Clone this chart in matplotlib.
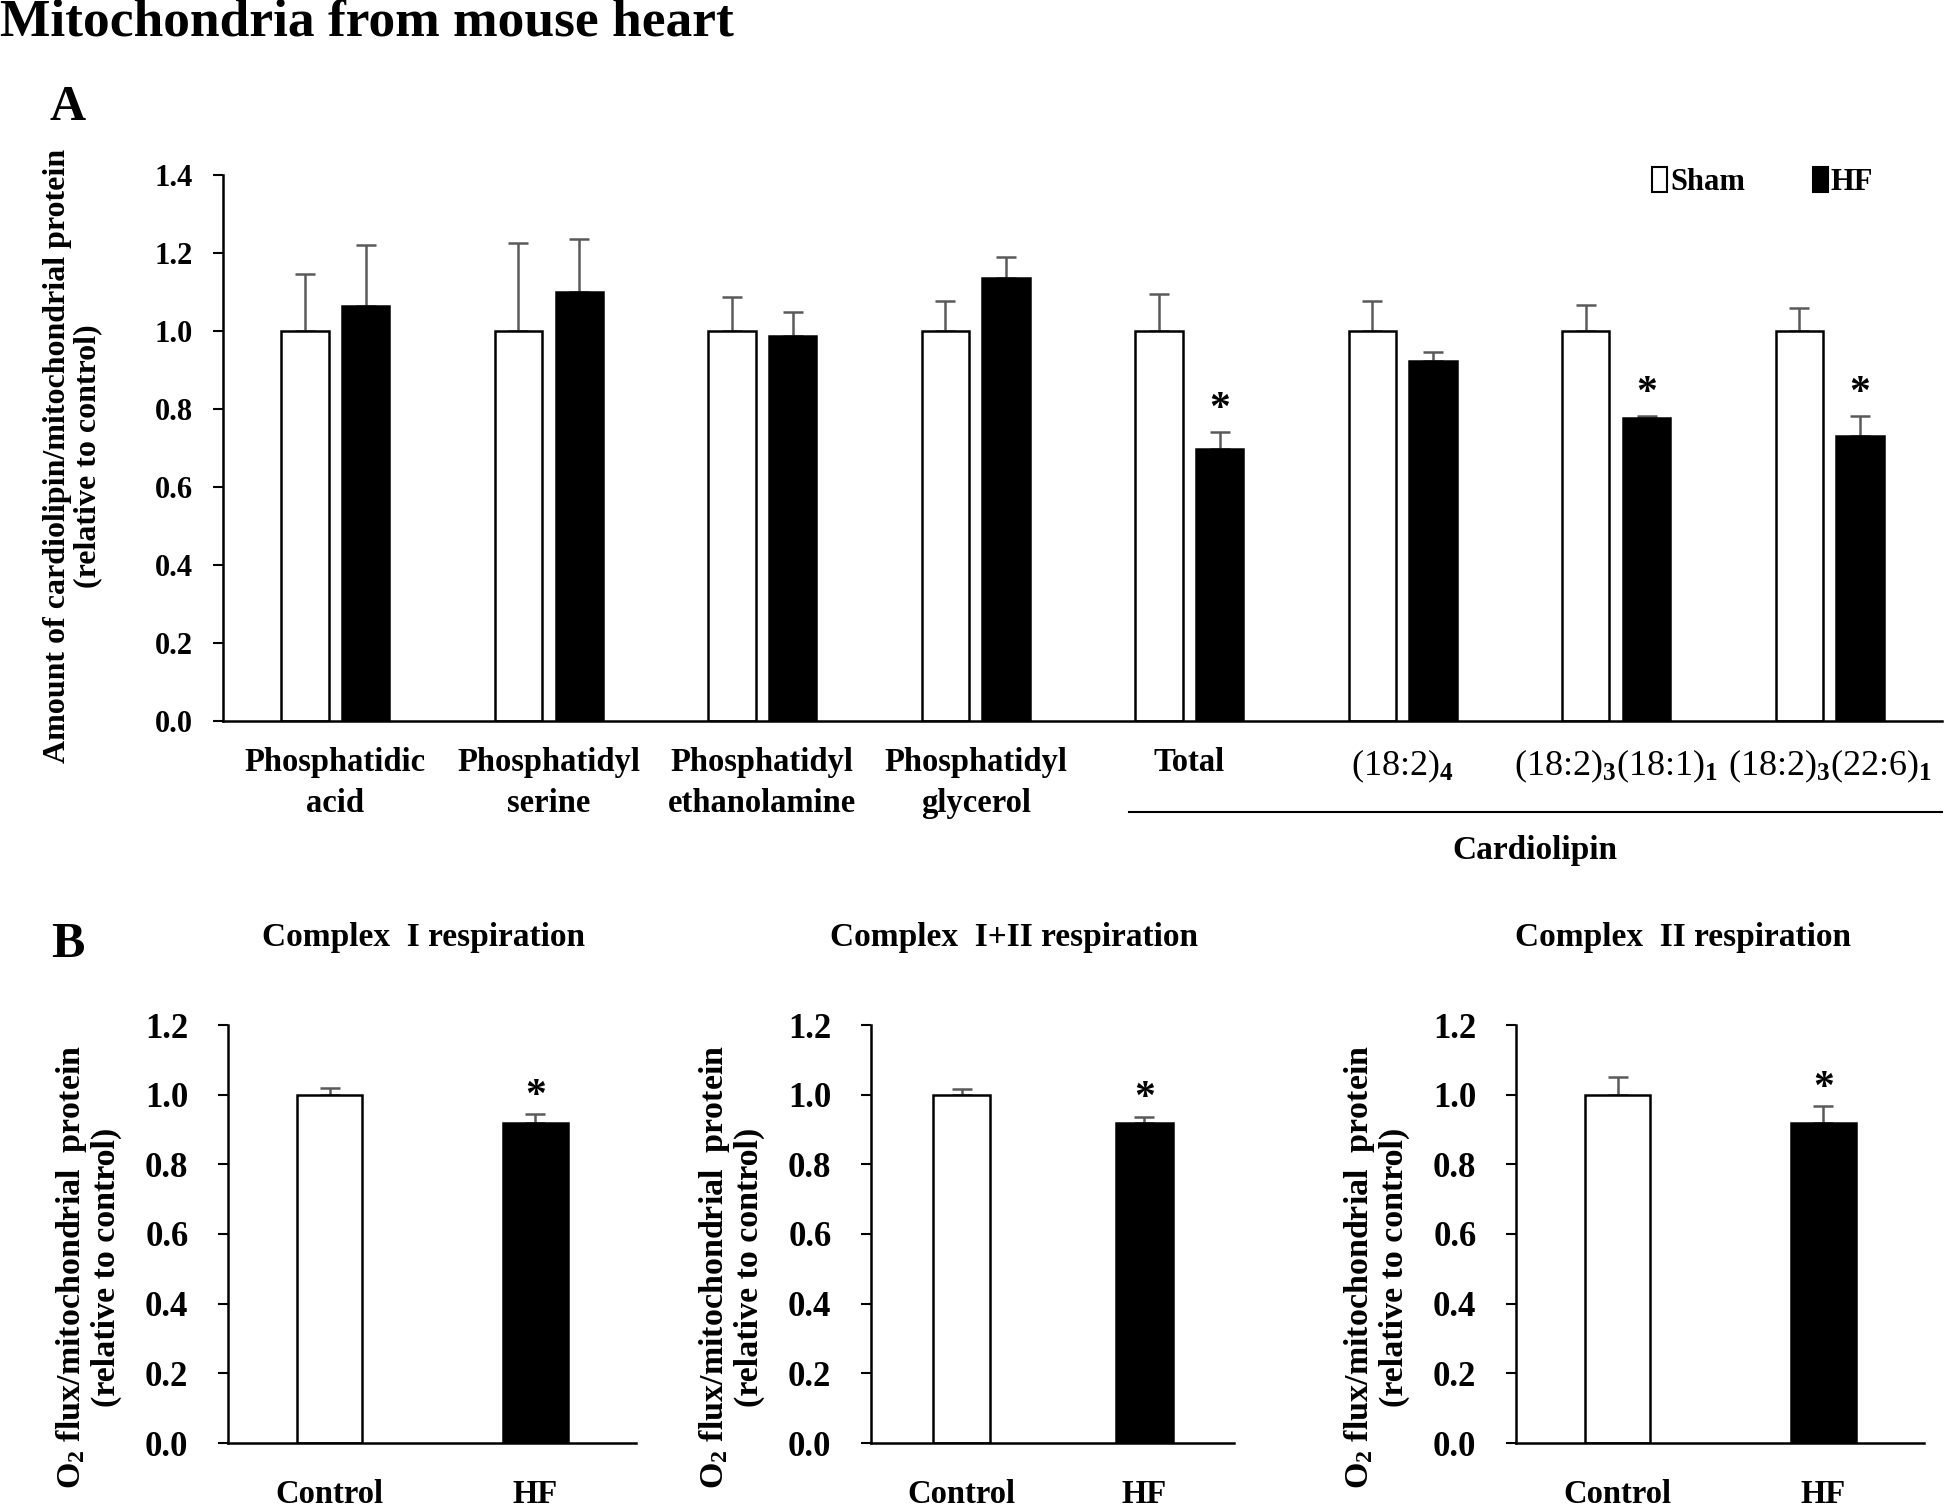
import matplotlib
matplotlib.use("Agg")
import matplotlib.pyplot as plt
import matplotlib.transforms as mtransforms
from matplotlib.patches import Patch
import numpy as np

plt.rcParams["font.family"] = ["Liberation Serif", "DejaVu Serif"]
plt.rcParams["font.weight"] = "bold"
plt.rcParams["axes.labelweight"] = "bold"
plt.rcParams["mathtext.fontset"] = "custom"
plt.rcParams["mathtext.rm"] = "Liberation Serif"
plt.rcParams["mathtext.it"] = "Liberation Serif:italic"
plt.rcParams["mathtext.bf"] = "Liberation Serif:bold"
plt.rcParams["mathtext.default"] = "rm"

# ---------------------------------------------------------------------------
# Data
# ---------------------------------------------------------------------------
lipids = ["Phosphatidic\nacid", "Phosphatidyl\nserine", "Phosphatidyl\nethanolamine",
          "Phosphatidyl\nglycerol", "Total", "(18:2)$_4$",
          "(18:2)$_3$(18:1)$_1$", "(18:2)$_3$(22:6)$_1$"]
sham_vals = [1.00, 1.00, 1.00, 1.00, 1.00, 1.00, 1.00, 1.00]
sham_err  = [0.145, 0.225, 0.088, 0.078, 0.094, 0.077, 0.066, 0.060]
hf_vals   = [1.065, 1.100, 0.986, 1.135, 0.697, 0.924, 0.777, 0.731]
hf_err    = [0.155, 0.137, 0.064, 0.055, 0.044, 0.021, 0.006, 0.050]
hf_sig    = [False, False, False, False, True, False, True, True]

resp_titles = ["Complex  I respiration", "Complex  I+II respiration", "Complex  II respiration"]
resp_groups = ["Control", "HF"]
resp_ctrl     = [1.00, 1.00, 1.00]
resp_ctrl_err = [0.019, 0.017, 0.052]
resp_hf       = [0.920, 0.920, 0.920]
resp_hf_err   = [0.025, 0.017, 0.048]

FS = 23.5
ERR_COLOR = "#5a5a5a"
W, H = 1946, 1507

fig = plt.figure(figsize=(19.46, 15.07), dpi=100)

fig.text(0.0, 1 - 22 / H, "Mitochondria from mouse heart", fontsize=38.5,
         fontweight="bold", ha="left", va="center")
fig.text(68 / W, 1 - 108 / H, "A", fontsize=36, fontweight="bold", ha="center", va="center")
fig.text(68 / W, 1 - 945 / H, "B", fontsize=36, fontweight="bold", ha="center", va="center")


def style_axes(ax, pad, xpad):
    for s in ["top", "right"]:
        ax.spines[s].set_visible(False)
    for s in ["left", "bottom"]:
        ax.spines[s].set_linewidth(1.8)
    ax.tick_params(axis="y", direction="out", length=7.5, width=1.5, pad=pad)
    ax.tick_params(axis="x", length=0, pad=xpad)


# ---------------------------------------------------------------------------
# Panel A
# ---------------------------------------------------------------------------
axA = fig.add_axes([223 / W, 1 - 721 / H, (1942 - 223) / W, (721 - 175) / H])
x = np.arange(len(lipids))
off, w = 0.142, 0.221
axA.bar(x - off, sham_vals, w, color="white", edgecolor="black", linewidth=1.8, zorder=2)
axA.bar(x + off, hf_vals, w, color="black", edgecolor="black", linewidth=1.8, zorder=2)
axA.errorbar(x - off, sham_vals, yerr=[np.zeros(len(x)), sham_err], fmt="none",
             ecolor=ERR_COLOR, elinewidth=1.8, capsize=7, capthick=1.8, zorder=1)
axA.errorbar(x + off, hf_vals, yerr=[np.zeros(len(x)), hf_err], fmt="none",
             ecolor=ERR_COLOR, elinewidth=1.8, capsize=7, capthick=1.8, zorder=1)
for i in range(len(x)):
    if hf_sig[i]:
        axA.text(x[i] + off, hf_vals[i] + hf_err[i] + 0.008, "*", fontsize=30,
                 ha="center", va="bottom")
axA.set_xlim(-0.526, 7.526)
axA.set_ylim(0, 1.4)
axA.set_yticks(np.arange(0, 1.41, 0.2))
axA.set_yticklabels([f"{v:.1f}" for v in np.arange(0, 1.41, 0.2)], fontsize=22)
axA.set_xticks(x)
axA.set_xticklabels(lipids, fontsize=FS, linespacing=1.38)
for lab in axA.get_xticklabels()[5:]:
    lab.set_fontweight("normal")
    lab.set_fontsize(26)
style_axes(axA, 14, 19)
axA.set_ylabel("Amount of cardiolipin/mitochondrial protein\n(relative to control)",
               fontsize=23, linespacing=1.05)
axA.yaxis.label.set_verticalalignment("center")
axA.yaxis.set_label_coords(-0.0875, 0.485)

trans = mtransforms.blended_transform_factory(axA.transData, axA.transAxes)
axA.plot([3.72, 7.526], [-0.167, -0.167], color="black", linewidth=1.5,
         transform=trans, clip_on=False)
axA.text(5.62, -0.238, "Cardiolipin", fontsize=24, ha="center", va="center", transform=trans)

handles = [Patch(facecolor="white", edgecolor="black", linewidth=1.5),
           Patch(facecolor="black", edgecolor="black", linewidth=1.5)]
axA.legend(handles, ["Sham", "HF"], ncol=2, loc="center right", bbox_to_anchor=(0.96, 0.987),
           frameon=False, fontsize=22, handlelength=0.5, handleheight=0.9,
           handletextpad=0.1, columnspacing=2.2, borderpad=0, borderaxespad=0)

# ---------------------------------------------------------------------------
# Panel B
# ---------------------------------------------------------------------------
b_lefts = [228, 871, 1516]
b_widths = [408, 363, 408]
title_x = [423, 1014, 1683]
xb = np.arange(2)
for k in range(3):
    ax = fig.add_axes([b_lefts[k] / W, 1 - 1443 / H, b_widths[k] / W, (1443 - 1025) / H])
    bw = 0.315
    ax.bar(xb[0], resp_ctrl[k], bw, color="white", edgecolor="black", linewidth=1.8, zorder=2)
    ax.bar(xb[1], resp_hf[k], bw, color="black", edgecolor="black", linewidth=1.8, zorder=2)
    ax.errorbar(xb, [resp_ctrl[k], resp_hf[k]],
                yerr=[[0, 0], [resp_ctrl_err[k], resp_hf_err[k]]], fmt="none",
                ecolor=ERR_COLOR, elinewidth=1.8, capsize=7, capthick=1.8, zorder=1)
    ax.text(xb[1], resp_hf[k] + resp_hf_err[k] - 0.005, "*", fontsize=30,
            ha="center", va="bottom")
    ax.set_xlim(-0.495, 1.49)
    ax.set_ylim(0, 1.2)
    ticks = np.arange(0, 1.21, 0.2)
    ax.set_yticks(ticks)
    ax.set_yticklabels([f"{v:.1f}" for v in ticks], fontsize=25)
    ax.set_xticks(xb)
    ax.set_xticklabels(resp_groups, fontsize=23.5)
    style_axes(ax, 21, 26)
    ax.set_ylabel("$\\mathbf{O}_\\mathbf{2}$ flux/mitochondrial  protein\n(relative to control)",
                  fontsize=24.5, linespacing=1.1)
    ax.yaxis.label.set_verticalalignment("center")
    ax.yaxis.set_label_coords(-140 / b_widths[k], 0.421)
    fig.text(title_x[k] / W, 1 - 938 / H, resp_titles[k], fontsize=24,
             fontweight="bold", ha="center", va="center")

fig.savefig("out.png", dpi=100)
